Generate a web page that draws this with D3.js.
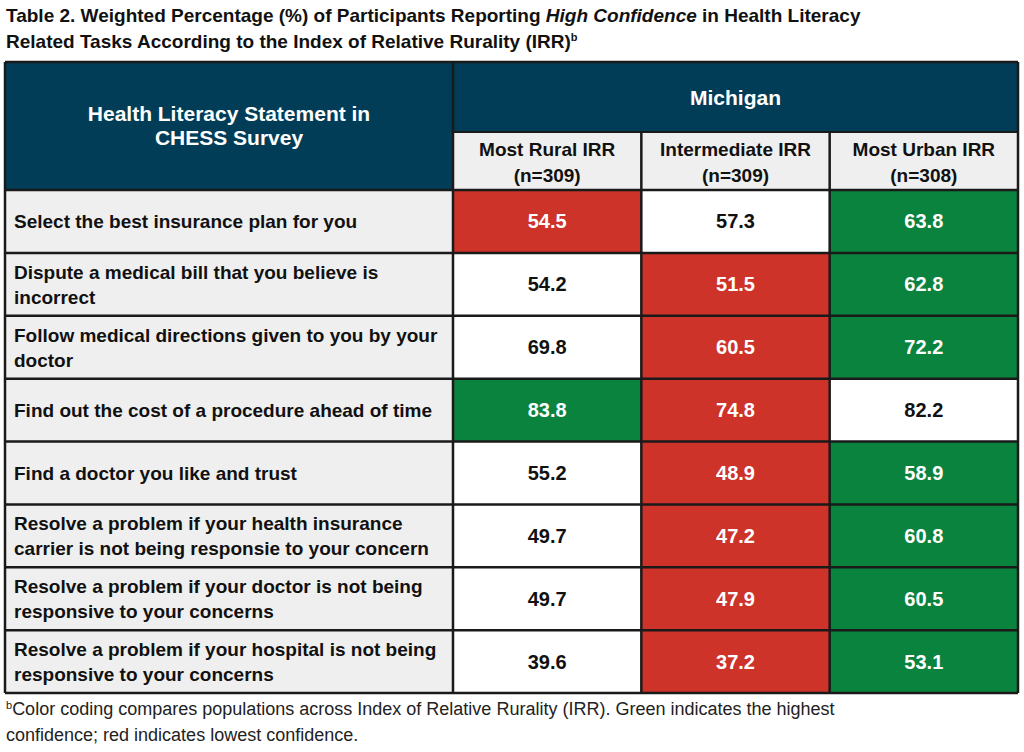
<!DOCTYPE html>
<html lang="en">
<head>
<meta charset="UTF-8">
<title>Table 2</title>
<script src="https://cdnjs.cloudflare.com/ajax/libs/d3/7.8.5/d3.min.js"></script>
<style>
  body { margin: 0; background: #fff; }
</style>
</head>
<body>
<svg id="chart" width="1024" height="752"></svg>
<script>
    const statements = [
        ['Select the best insurance plan for you'],
        ['Dispute a medical bill that you believe is', 'incorrect'],
        ['Follow medical directions given to you by your', 'doctor'],
        ['Find out the cost of a procedure ahead of time'],
        ['Find a doctor you like and trust'],
        ['Resolve a problem if your health insurance', 'carrier is not being responsie to your concern'],
        ['Resolve a problem if your doctor is not being', 'responsive to your concerns'],
        ['Resolve a problem if your hospital is not being', 'responsive to your concerns']
    ];
    const groups = ['Most Rural IRR', 'Intermediate IRR', 'Most Urban IRR'];
    const sampleSizes = ['(n=309)', '(n=309)', '(n=308)'];
    const rural = [54.5, 54.2, 69.8, 83.8, 55.2, 49.7, 49.7, 39.6];
    const intermediate = [57.3, 51.5, 60.5, 74.8, 48.9, 47.2, 47.9, 37.2];
    const urban = [63.8, 62.8, 72.2, 82.2, 58.9, 60.8, 60.5, 53.1];
    const series = [rural, intermediate, urban];

    const navy = '#023d58', red = '#cd3329', green = '#0a833f', grey = '#efefef';
    const font = '"Liberation Sans Narrow", "Arial Narrow", "Liberation Sans", sans-serif';

    const svg = d3.select('#chart');

    // title
    const title = svg.append('text')
        .attr('font-family', '"Liberation Sans", Arial, sans-serif')
        .attr('font-weight', 'bold')
        .attr('font-size', 19)
        .attr('fill', '#111');
    title.append('tspan').attr('x', 6).attr('y', 22).text('Table 2. Weighted Percentage (%) of Participants Reporting ')
        .append('tspan').attr('font-style', 'italic').text('High Confidence');
    title.select('tspan').append('tspan').text(' in Health Literacy');
    const t2 = title.append('tspan').attr('x', 6).attr('y', 48).text('Related Tasks According to the Index of Relative Rurality (IRR)');
    t2.append('tspan').attr('font-size', 11).attr('dy', -7).text('b');

    // scales
    const x = d3.scaleOrdinal().domain(['label', 0, 1, 2]).range([5, 453, 641, 828]);
    const xEnd = 1018;
    const colW = (xEnd - 453) / 3;
    const y = d3.scaleBand().domain(d3.range(statements.length)).range([190, 693]);
    const headTop = 62, subTop = 132;

    // header
    svg.append('rect').attr('x', 5).attr('y', headTop).attr('width', xEnd - 5).attr('height', 190 - headTop).attr('fill', navy);
    svg.append('text').attr('x', 229).attr('y', 121).attr('text-anchor', 'middle')
        .attr('font-family', font).attr('font-weight', 'bold').attr('font-size', 21).attr('fill', '#fff')
        .selectAll('tspan').data(['Health Literacy Statement in', 'CHESS Survey']).join('tspan')
        .attr('x', 229).attr('dy', (d, i) => i ? 24 : 0).text(d => d);
    svg.append('text').attr('x', (453 + xEnd) / 2).attr('y', 105).attr('text-anchor', 'middle')
        .attr('font-family', font).attr('font-weight', 'bold').attr('font-size', 21).attr('fill', '#fff').text('Michigan');

    const sub = svg.selectAll('g.sub').data(groups).join('g').attr('class', 'sub');
    sub.append('rect').attr('x', (d, i) => 453 + i * colW).attr('y', subTop)
        .attr('width', colW).attr('height', 190 - subTop).attr('fill', grey);
    sub.append('text').attr('text-anchor', 'middle').attr('font-family', font).attr('font-weight', 'bold')
        .attr('font-size', 19).attr('fill', '#111')
        .selectAll('tspan').data((d, i) => [d, sampleSizes[i]].map(t => ({t, i}))).join('tspan')
        .attr('x', d => 453 + d.i * colW + colW / 2).attr('y', (d, j) => j ? 182 : 156).text(d => d.t);

    // body rows
    const rows = svg.selectAll('g.row').data(statements).join('g').attr('class', 'row');
    rows.append('rect').attr('x', 5).attr('y', (d, i) => y(i)).attr('width', 448).attr('height', y.bandwidth()).attr('fill', grey);
    rows.append('text').attr('font-family', font).attr('font-weight', 'bold').attr('font-size', 19).attr('fill', '#111')
        .each(function (d, i) {
            const n = d.length, cy = y(i) + y.bandwidth() / 2;
            d3.select(this).selectAll('tspan').data(d).join('tspan')
                .attr('x', 14).attr('y', (t, j) => cy + 7 + (j - (n - 1) / 2) * 25).text(t => t);
        });

    statements.forEach((s, r) => {
        const vals = series.map(sr => sr[r]);
        const mx = d3.max(vals), mn = d3.min(vals);
        vals.forEach((v, c) => {
            const fill = v === mx ? green : v === mn ? red : '#fff';
            svg.append('rect').attr('x', 453 + c * colW).attr('y', y(r))
                .attr('width', colW).attr('height', y.bandwidth()).attr('fill', fill);
            svg.append('text').attr('x', 453 + c * colW + colW / 2).attr('y', y(r) + y.bandwidth() / 2 + 7)
                .attr('text-anchor', 'middle').attr('font-family', font).attr('font-weight', 'bold')
                .attr('font-size', 20).attr('fill', fill === '#fff' ? '#111' : '#fff').text(v.toFixed(1));
        });
    });

    // grid lines
    const lineCol = '#1a1a1a';
    const hy = [headTop, 190].concat(d3.range(1, statements.length).map(i => y(i)), [693]);
    svg.selectAll('line.h').data(hy).join('line').attr('class', 'h')
        .attr('x1', 5).attr('x2', xEnd).attr('y1', d => d).attr('y2', d => d)
        .attr('stroke', lineCol).attr('stroke-width', 2.5);
    svg.append('line').attr('x1', 453).attr('x2', xEnd).attr('y1', subTop).attr('y2', subTop).attr('stroke', lineCol).attr('stroke-width', 2);
    svg.append('line').attr('x1', 453).attr('x2', 453).attr('y1', headTop).attr('y2', 693).attr('stroke', lineCol).attr('stroke-width', 2.5);
    [1, 2].forEach(c => svg.append('line').attr('x1', 453 + c * colW).attr('x2', 453 + c * colW)
        .attr('y1', subTop).attr('y2', 693).attr('stroke', lineCol).attr('stroke-width', 2.5));
    [5, xEnd].forEach(xv => svg.append('line').attr('x1', xv).attr('x2', xv).attr('y1', headTop).attr('y2', 693)
        .attr('stroke', lineCol).attr('stroke-width', 2.5));

    // footnote
    const fn = svg.append('text').attr('font-family', '"Liberation Sans", Arial, sans-serif').attr('font-size', 18).attr('fill', '#222');
    fn.append('tspan').attr('x', 6).attr('y', 715).attr('font-size', 11).attr('dy', -6).text('b');
    fn.append('tspan').attr('dy', 6).text('Color coding compares populations across Index of Relative Rurality (IRR). Green indicates the highest');
    fn.append('tspan').attr('x', 6).attr('y', 741).text('confidence; red indicates lowest confidence.');
</script>
</body>
</html>
